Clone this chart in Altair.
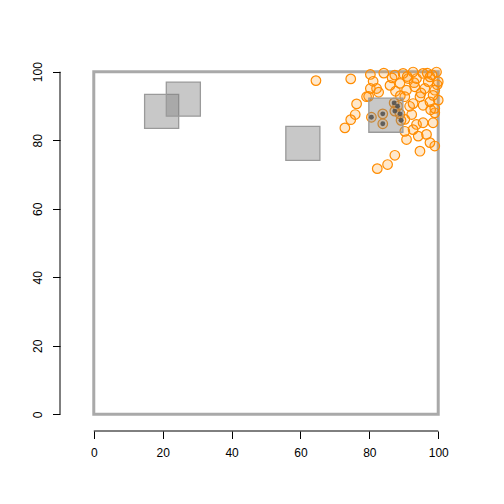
import altair as alt
import pandas as pd

# orange open points (x, y)
pt_x = [64.5, 74.6, 80.3, 81.1, 80.3, 82.1, 79.2, 76.3, 75.9, 74.6, 72.9, 84.2,
        86.6, 87.4, 89.8, 91.0, 92.7, 95.6, 96.8, 97.6, 99.5, 98.2, 88.9, 91.3,
        93.7, 97.1, 100.0, 87.6, 90.8, 93.2, 96.1, 99.0, 90.3, 94.7, 98.5, 97.6,
        100.0, 92.7, 95.6, 99.0, 91.7, 92.3, 97.8, 90.3, 93.7, 95.6, 98.5, 92.7,
        96.6, 90.3, 94.2, 90.8, 99.0, 97.6, 94.7, 87.4, 85.3, 82.3, 99.0, 79.8,
        82.7, 99.7, 93.0, 95.0, 89.0, 86.0,
        80.6, 83.9, 83.9, 87.2, 88.2, 87.4, 88.9, 89.2]
pt_y = [97.4, 97.9, 99.2, 97.2, 95.1, 95.1, 92.7, 90.6, 87.5, 86.0, 83.6, 99.6,
        98.2, 99.0, 99.5, 98.6, 99.9, 99.5, 99.6, 98.5, 99.9, 99.1, 96.6, 98.0,
        98.0, 97.1, 97.1, 94.3, 94.6, 95.6, 95.1, 94.6, 92.7, 92.7, 93.1, 91.2,
        91.7, 90.7, 90.2, 89.3, 89.9, 87.5, 88.9, 86.1, 84.6, 85.1, 85.1, 83.1,
        81.7, 82.6, 81.2, 80.2, 78.3, 79.3, 76.8, 75.6, 72.9, 71.7, 88.0, 92.8,
        94.0, 96.2, 96.8, 93.8, 93.0, 96.0,
        86.7, 87.7, 84.8, 90.9, 89.9, 88.5, 87.7, 85.8]

# dark points (inside the square near 85, 87)
dk_x = [80.6, 83.9, 83.9, 87.2, 88.2, 87.4, 88.9, 89.2]
dk_y = [86.7, 87.7, 84.8, 90.9, 89.9, 88.5, 87.7, 85.8]

# gray squares (centres)
sq_x = [19.7, 26.0, 60.7, 84.8]
sq_y = [88.4, 92.0, 79.1, 87.3]

tick_vals = [0, 20, 40, 60, 80, 100]

pts = pd.DataFrame({"x": pt_x, "y": pt_y})
dks = pd.DataFrame({"x": dk_x, "y": dk_y})
sqs = pd.DataFrame({"x": sq_x, "y": sq_y})

W, H = 372, 370
xs = alt.Scale(domain=[-4, 104], nice=False, zero=False)
ys = alt.Scale(domain=[-4, 104], nice=False, zero=False)
FONT = "Liberation Sans"

x_axis = alt.Axis(values=tick_vals, domain=False, grid=False, tickColor="black",
                  tickSize=7.5, tickWidth=1, labelFont=FONT, labelFontSize=12,
                  labelColor="black", labelPadding=9, offset=3, title=None,
                  labelFlush=False)
y_axis = alt.Axis(values=tick_vals, domain=False, grid=False, tickColor="black",
                  tickSize=7.5, tickWidth=1, labelFont=FONT, labelFontSize=12,
                  labelColor="black", labelPadding=8, offset=20, title=None,
                  labelAngle=270, labelAlign="center", labelBaseline="bottom",
                  labelFlush=False)

base_one = alt.Chart(alt.Data(values=[{}]))

box = base_one.mark_rect(fill="transparent", stroke="#A9A9A9", strokeWidth=3).encode(
    x=alt.X(datum=0, scale=xs, axis=x_axis),
    x2=alt.X2(datum=100),
    y=alt.Y(datum=0, scale=ys, axis=y_axis),
    y2=alt.Y2(datum=100),
)

xline = base_one.mark_rule(color="black", strokeWidth=1).encode(
    x=alt.X(datum=0, scale=xs),
    x2=alt.X2(datum=100),
    y=alt.value(H + 3),
)
yline = base_one.mark_rule(color="black", strokeWidth=1).encode(
    y=alt.Y(datum=0, scale=ys),
    y2=alt.Y2(datum=100),
    x=alt.value(-20),
)

circles = alt.Chart(pts).mark_circle(
    size=92, fill="#FF8C00", fillOpacity=0.2, stroke="#FF8C00",
    strokeWidth=1.2, strokeOpacity=1,
).encode(
    x=alt.X("x:Q", scale=xs),
    y=alt.Y("y:Q", scale=ys),
)

squares = alt.Chart(sqs).mark_square(
    size=1160, fill="#808080", fillOpacity=0.43, stroke="#9A9A9A",
    strokeWidth=1.3,
).encode(
    x=alt.X("x:Q", scale=xs),
    y=alt.Y("y:Q", scale=ys),
)

dark = alt.Chart(dks).mark_circle(size=24, color="#4D4D4D", opacity=0.85).encode(
    x=alt.X("x:Q", scale=xs),
    y=alt.Y("y:Q", scale=ys),
)

chart = alt.layer(box, xline, yline, circles, squares, dark).properties(
    width=W, height=H,
    padding={"left": 72, "top": 50, "right": 20, "bottom": 60},
    autosize=alt.AutoSizeParams(type="none"),
    background="white",
).configure_view(strokeOpacity=0)

chart.save("out.html", embed_options={"renderer": "svg", "actions": False})
